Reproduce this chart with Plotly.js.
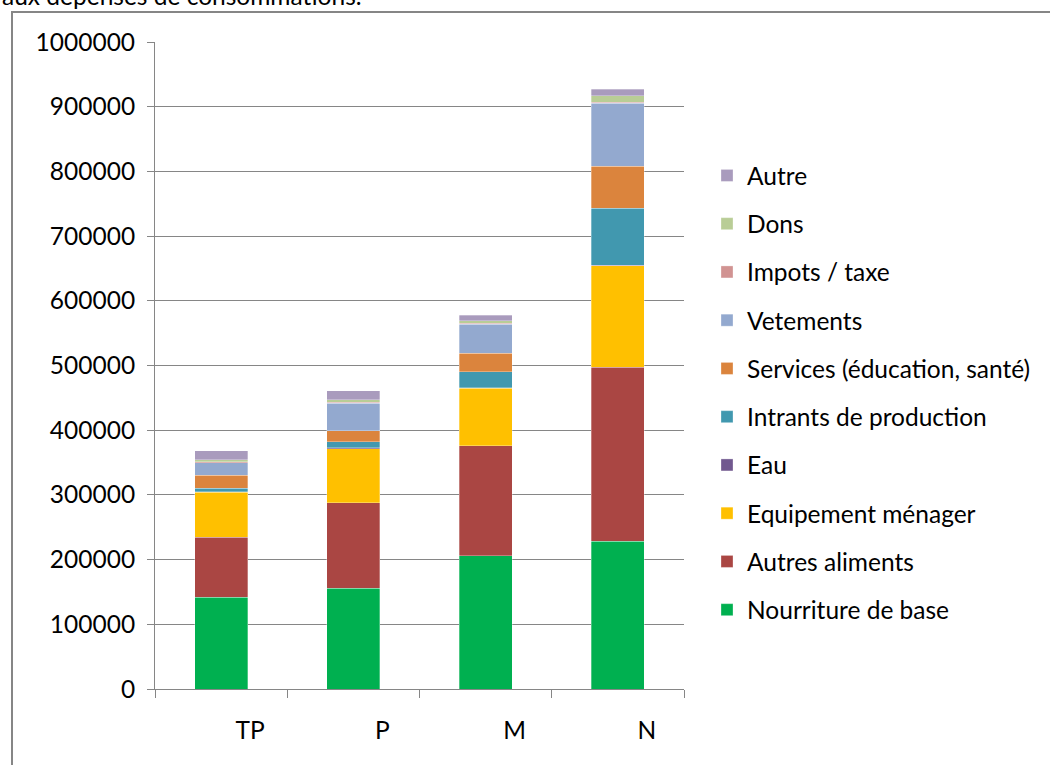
<!DOCTYPE html>
<html>
<head>
<meta charset="utf-8">
<script src="https://cdn.plot.ly/plotly-3.0.1.min.js"></script>
<style>html,body{margin:0;padding:0;background:#fff;}#chart{width:1050px;height:765px;}</style>
</head>
<body>
<div id="chart"></div>
<script>
var categories = ['TP', 'P', 'M', 'N'];
var seriesNames = ['Nourriture de base', 'Autres aliments', 'Equipement ménager', 'Eau',
  'Intrants de production', 'Services (éducation, santé)', 'Vetements', 'Impots / taxe', 'Dons', 'Autre'];
var nourriture = [142000, 155600, 205600, 228700];
var autresAliments = [92500, 132400, 170000, 268500];
var equipement = [69500, 83400, 89100, 156600];
var eau = [1000, 1400, 1300, 1500];
var intrants = [5500, 9000, 24500, 87600];
var services = [19500, 17400, 28300, 65400];
var vetements = [20000, 42400, 45300, 96900];
var impots = [1500, 1500, 1000, 2000];
var dons = [2500, 4000, 4000, 9800];
var autre = [14000, 14000, 8800, 10300];
var yTicks = [0, 100000, 200000, 300000, 400000, 500000, 600000, 700000, 800000, 900000, 1000000];
var seriesValues = [nourriture, autresAliments, equipement, eau, intrants, services, vetements, impots, dons, autre];
var colors = ['#00B050', '#AA4643', '#FFC000', '#71588F', '#4198AF', '#DB843D', '#93A9CF', '#D19392', '#B9CD96', '#A99BBD'];

var FONT = 'Lato, "Open Sans", sans-serif';
var FS = 24.5;
var traces = seriesNames.map(function (n, i) {
  return {
    type: 'bar', name: n, x: categories, y: seriesValues[i],
    legendgroup: 'g' + i,
    legendrank: 1000 - i,
    marker: {color: colors[i], line: {color: 'rgba(255,255,255,0.6)', width: 0.5}},
    hoverinfo: 'name+y'
  };
});

var L = 155, R = 684, T = 42, B = 689;
function px(x) { return (x - L) / (R - L); }
function py(y) { return (B - y) / (B - T); }

var layout = {
  width: 1050, height: 765,
  margin: {l: L, r: 1050 - R, t: T, b: 765 - B, pad: 0},
  paper_bgcolor: '#fff', plot_bgcolor: '#fff',
  barmode: 'stack', bargap: 0.6,
  showlegend: true,
  font: {family: FONT, size: FS, color: '#000'},
  xaxis: {
    type: 'category', showgrid: false, showline: true, linecolor: '#868686', linewidth: 1,
    ticks: 'outside', tickson: 'boundaries', ticklen: 8, tickcolor: '#868686',
    tickfont: {family: FONT, size: FS, color: '#000'},
    ticklabelshift: 29, ticklabelstandoff: 20, zeroline: false, fixedrange: true
  },
  yaxis: {
    range: [0, 1000000], tickvals: yTicks, ticktext: yTicks.map(String),
    showgrid: true, gridcolor: '#868686', gridwidth: 1,
    showline: true, linecolor: '#868686', linewidth: 1,
    ticks: 'outside', ticklen: 7, tickcolor: '#868686',
    tickfont: {family: FONT, size: FS, color: '#000'}, ticklabelstandoff: 7,
    zeroline: false, fixedrange: true
  },
  legend: {
    x: px(707), xanchor: 'left', y: py(153), yanchor: 'top',
    traceorder: 'grouped', tracegroupgap: 13.4,
    font: {family: FONT, size: FS, color: '#000'},
    bgcolor: 'rgba(0,0,0,0)', itemclick: false, itemdoubleclick: false
  },
  shapes: [
    {type: 'line', xref: 'paper', yref: 'paper', x0: px(11), x1: px(1060), y0: py(12), y1: py(12),
     line: {color: '#868686', width: 2}},
    {type: 'line', xref: 'paper', yref: 'paper', x0: px(12), x1: px(12), y0: py(12), y1: py(780),
     line: {color: '#868686', width: 2}}
  ],
  annotations: [
    {xref: 'paper', yref: 'paper', x: px(0), y: py(12), xanchor: 'left', yanchor: 'bottom',
     text: 'aux dépenses de consommations.', showarrow: false,
     font: {family: FONT, size: FS, color: '#000'}}
  ]
};

Plotly.newPlot('chart', traces, layout, {displayModeBar: false, staticPlot: true});
</script>
</body>
</html>
